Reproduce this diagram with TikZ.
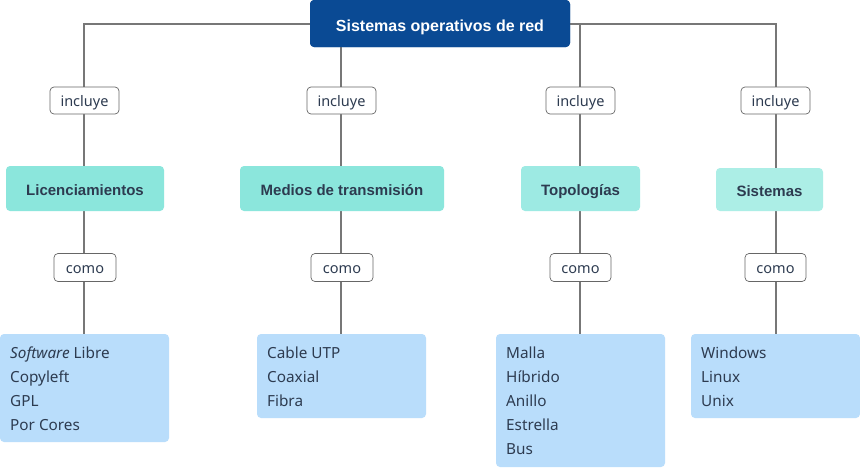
\documentclass[tikz,border=0pt]{standalone}
\usepackage{fontspec}
\setmainfont{Noto Sans}
\newfontfamily\headfont{Liberation Sans}
\begin{document}
\begin{tikzpicture}[x=1pt,y=-1pt,
  conn/.style={draw=linegray,line width=1.6pt},
  rootbox/.style={fill=rootblue,rounded corners=4pt,inner sep=0pt,text=white,text height=15pt,text depth=0pt,font=\headfont\fontsize{16}{18}\selectfont\bfseries},
  catbox/.style={rounded corners=4pt,inner sep=0pt,text=txtdark,text height=13pt,text depth=0pt,font=\headfont\fontsize{15}{17}\selectfont\bfseries},
  lbl/.style={draw=lblgray,line width=0.7pt,fill=white,rounded corners=4pt,inner sep=0pt,text=txtdark,text height=11.5pt,text depth=0.5pt,font=\fontsize{14.5}{17}\selectfont},
  leaftxt/.style={anchor=north west,align=left,inner sep=0pt,text=txtdark,font=\fontsize{15.3}{24}\selectfont}
]
\definecolor{rootblue}{HTML}{0A4A94}
\definecolor{linegray}{HTML}{777777}
\definecolor{lblgray}{HTML}{666666}
\definecolor{txtdark}{HTML}{2D3B50}
\definecolor{leafblue}{HTML}{B9DDFB}
\definecolor{catA}{HTML}{8BE6DC}
\definecolor{catB}{HTML}{9DEAE3}
\definecolor{catC}{HTML}{ACEEE6}
\useasboundingbox (0,0) rectangle (860,467);
\fill[white] (0,0) rectangle (860,467);

\coordinate (cA) at (84,24);
\coordinate (cD) at (776,24);

\node[rootbox,minimum width=260pt,minimum height=47pt] (root) at (440,23.5) {Sistemas operativos de red};
\draw[conn] (root.west |- 0,24) -- (cA) -- (84,334);
\draw[conn] (root.east |- 0,24) -- (cD) -- (776,334);
\draw[conn] (341,47) -- (341,334);
\draw[conn] (580,24) -- (580,334);
\node[rootbox,minimum width=260pt,minimum height=47pt] at (440,23.5) {Sistemas operativos de red};

\node[catbox,fill=catA,minimum width=158pt,minimum height=45pt] (lic) at (85,188.5) {Licenciamientos};
\node[catbox,fill=catA,minimum width=204pt,minimum height=45pt] (med) at (342,188.5) {Medios de transmisión};
\node[catbox,fill=catB,minimum width=119pt,minimum height=45pt] (top) at (580.5,188.5) {Topologías};
\node[catbox,fill=catC,minimum width=107pt,minimum height=43pt] (sis) at (769.5,189.5) {Sistemas};

\node[lbl,minimum width=69pt,minimum height=27pt] (i1) at (84.5,100.5) {incluye};
\node[lbl,minimum width=69pt,minimum height=27pt] (i2) at (341.5,100.5) {incluye};
\node[lbl,minimum width=69pt,minimum height=27pt] (i3) at (580.5,100.5) {incluye};
\node[lbl,minimum width=69pt,minimum height=27pt] (i4) at (775.5,100.5) {incluye};

\node[lbl,minimum width=62pt,minimum height=28pt] (c1) at (85,267.5) {como};
\node[lbl,minimum width=62pt,minimum height=28pt] (c2) at (342,267.5) {como};
\node[lbl,minimum width=61pt,minimum height=28pt] (c3) at (580.5,267.5) {como};
\node[lbl,minimum width=61pt,minimum height=28pt] (c4) at (775.5,267.5) {como};

\fill[leafblue,rounded corners=4pt] (0,334) rectangle (169,442);
\fill[leafblue,rounded corners=4pt] (257,334) rectangle (426,418);
\fill[leafblue,rounded corners=4pt] (496,334) rectangle (665,467);
\fill[leafblue,rounded corners=4pt] (691,334) rectangle (860,418);
\node[leaftxt] (l1) at (10,346.5) {\textit{Software} Libre\\Copyleft\\GPL\\Por Cores};
\node[leaftxt] (l2) at (267,346.5) {Cable UTP\\Coaxial\\Fibra};
\node[leaftxt] (l3) at (506,346.5) {Malla\\Híbrido\\Anillo\\Estrella\\Bus};
\node[leaftxt] (l4) at (701,346.5) {Windows\\Linux\\Unix};
\end{tikzpicture}
\end{document}
